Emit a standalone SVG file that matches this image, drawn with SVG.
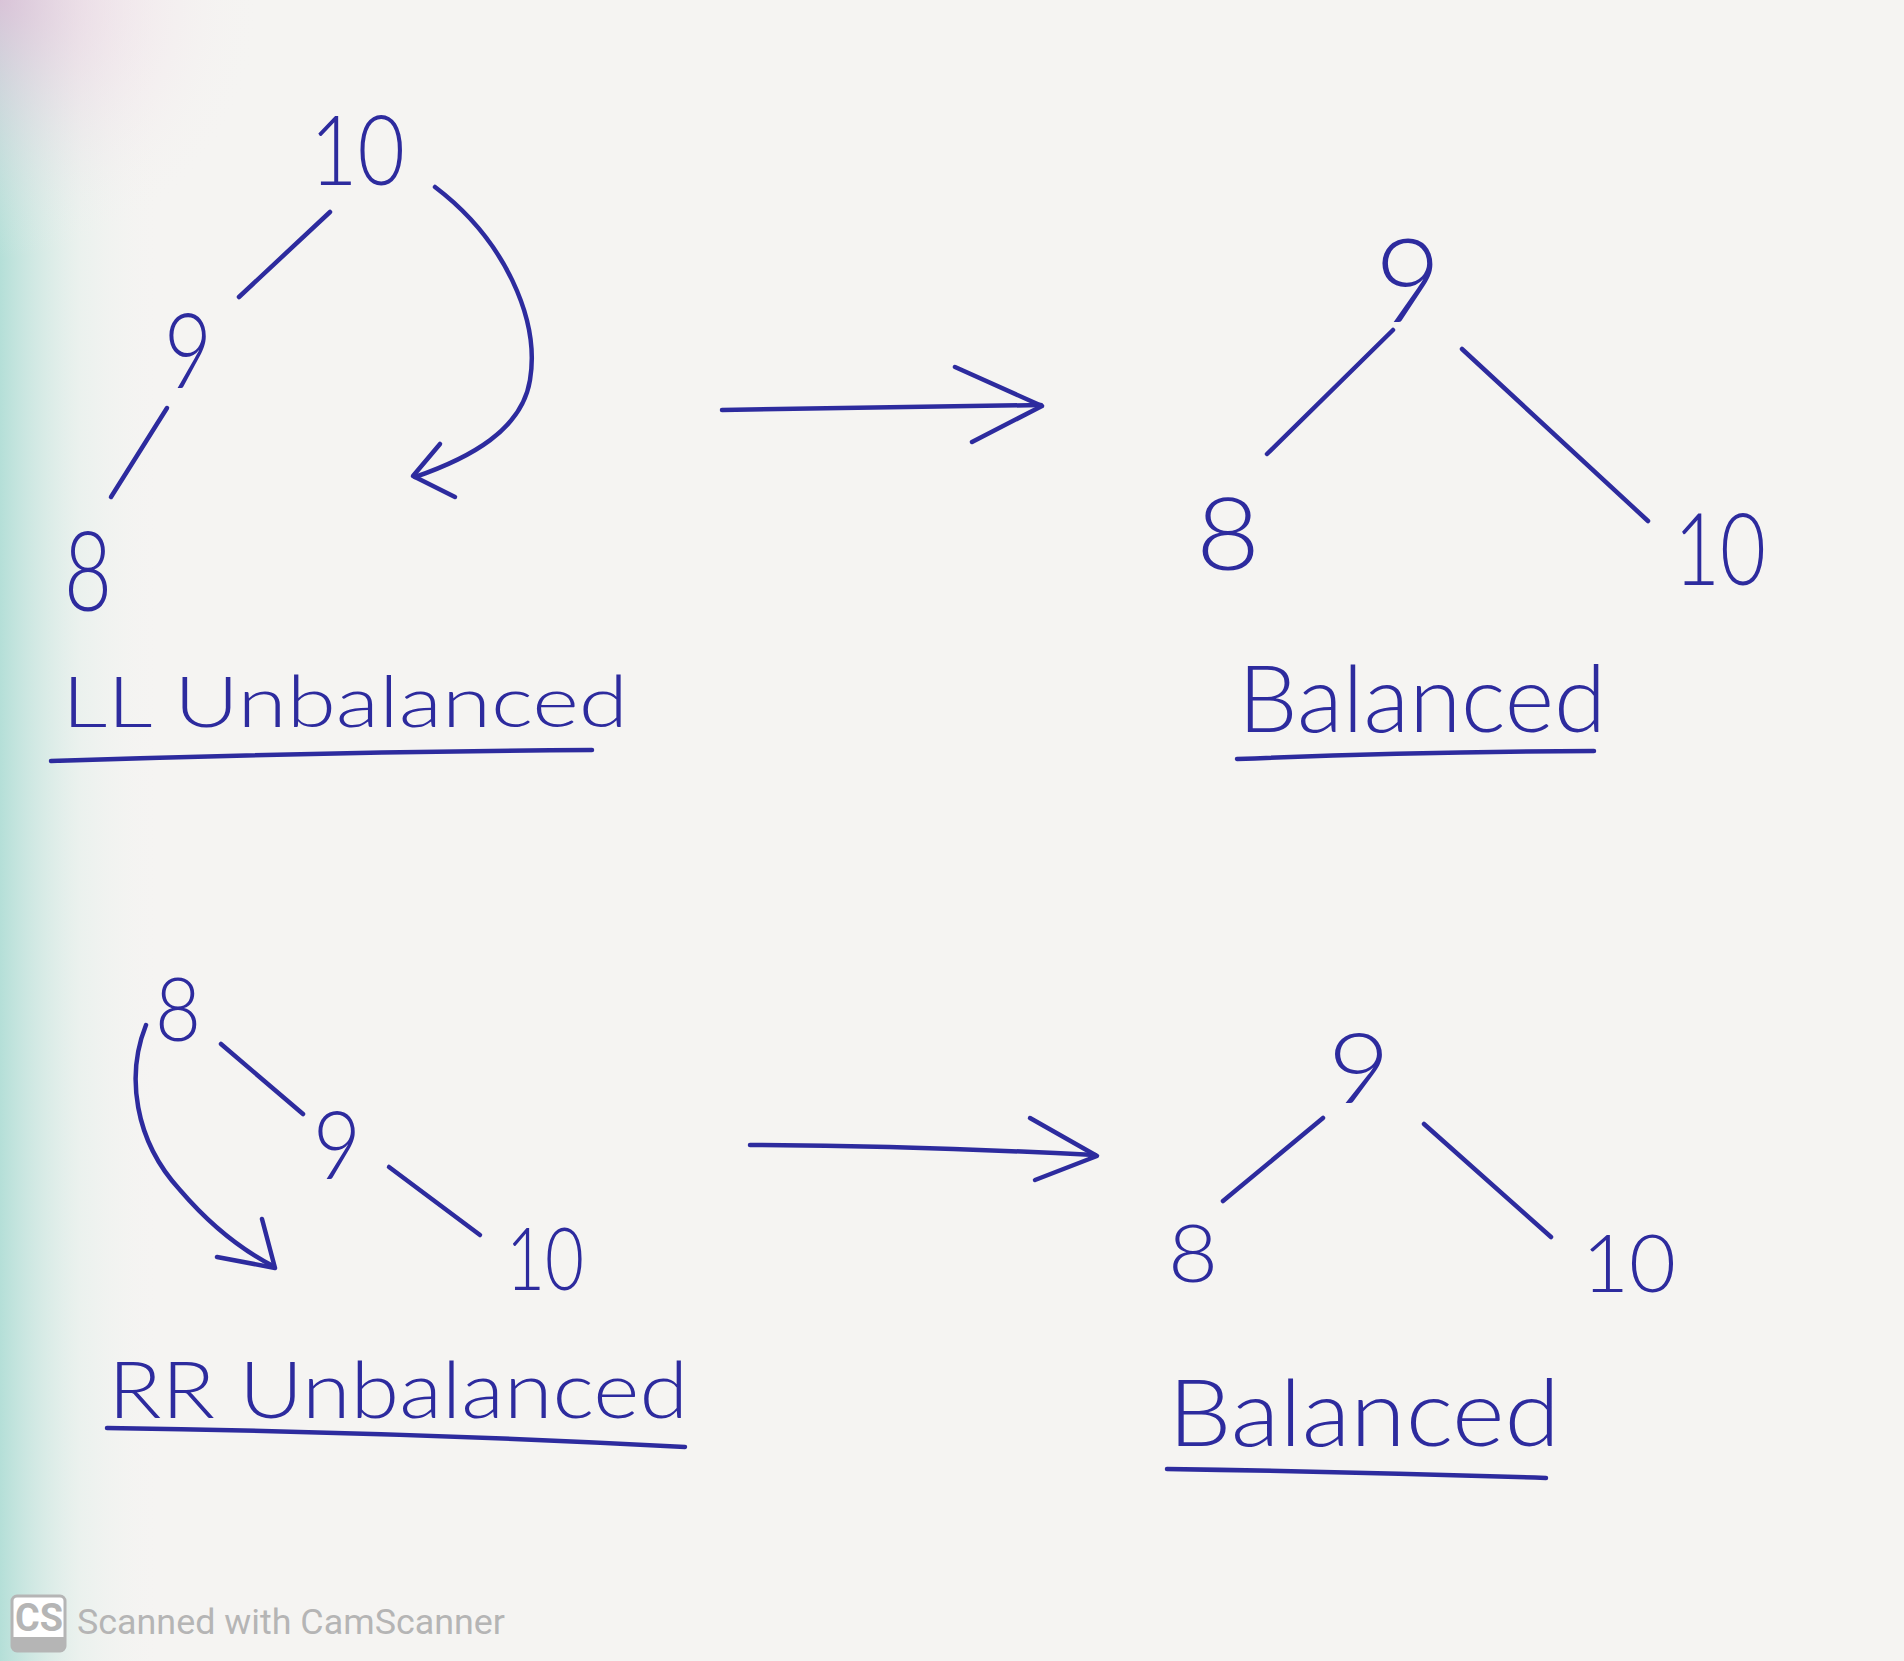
<svg xmlns="http://www.w3.org/2000/svg" width="1904" height="1661" viewBox="0 0 1904 1661">
  <defs>
    <linearGradient id="edge" x1="0" y1="0" x2="1" y2="0">
      <stop offset="0" stop-color="#9fd8cf" stop-opacity="0.75"/>
      <stop offset="0.5" stop-color="#d8ece6" stop-opacity="0.35"/>
      <stop offset="1" stop-color="#f4f3f1" stop-opacity="0"/>
    </linearGradient>
    <radialGradient id="corner" cx="0" cy="0" r="1">
      <stop offset="0" stop-color="#e8b8d8" stop-opacity="0.7"/>
      <stop offset="1" stop-color="#f4f3f1" stop-opacity="0"/>
    </radialGradient>
    <style>
      .ink { fill: #2d2b9e; font-family: Lato, "Liberation Sans", sans-serif; font-weight: 300; }
      .wire { fill: none; stroke: #2d2b9e; stroke-width: 4.5; stroke-linecap: round; stroke-linejoin: round; }
      .mark { fill: #b5b5b5; font-family: Roboto, "Liberation Sans", sans-serif; }
    </style>
  </defs>

  <rect x="0" y="0" width="1904" height="1661" fill="#f5f4f2"/>
  <rect x="0" y="0" width="160" height="1661" fill="url(#edge)"/>
  <rect x="0" y="0" width="260" height="260" fill="url(#corner)"/>

  <!-- LL unbalanced tree -->
  <g id="ll-node-10"><text class="ink" x="310" y="185" font-size="96" textLength="95" lengthAdjust="spacingAndGlyphs">10</text></g>
  <g id="ll-node-9"><text class="ink" x="164" y="388" font-size="104" textLength="48" lengthAdjust="spacingAndGlyphs">9</text></g>
  <g id="ll-node-8"><text class="ink" x="64" y="611" font-size="110" textLength="48" lengthAdjust="spacingAndGlyphs">8</text></g>
  <g id="ll-label"><text class="ink" x="62" y="727" font-size="70" textLength="566" lengthAdjust="spacingAndGlyphs">LL Unbalanced</text></g>

  <!-- Balanced tree (top) -->
  <g id="b1-node-9"><text class="ink" x="1375" y="322" font-size="116" textLength="66" lengthAdjust="spacingAndGlyphs">9</text></g>
  <g id="b1-node-8"><text class="ink" x="1196" y="570" font-size="100" textLength="64" lengthAdjust="spacingAndGlyphs">8</text></g>
  <g id="b1-node-10"><text class="ink" x="1674" y="585" font-size="100" textLength="92" lengthAdjust="spacingAndGlyphs">10</text></g>
  <g id="b1-label"><text class="ink" x="1238" y="732" font-size="93" textLength="368" lengthAdjust="spacingAndGlyphs">Balanced</text></g>

  <!-- RR unbalanced tree -->
  <g id="rr-node-8"><text class="ink" x="155" y="1041" font-size="88" textLength="46" lengthAdjust="spacingAndGlyphs">8</text></g>
  <g id="rr-node-9"><text class="ink" x="313" y="1179" font-size="94" textLength="48" lengthAdjust="spacingAndGlyphs">9</text></g>
  <g id="rr-node-10"><text class="ink" x="506" y="1290" font-size="86" textLength="78" lengthAdjust="spacingAndGlyphs">10</text></g>
  <g id="rr-label"><text class="ink" x="108" y="1418" font-size="78" textLength="580" lengthAdjust="spacingAndGlyphs">RR Unbalanced</text></g>

  <!-- Balanced tree (bottom) -->
  <g id="b2-node-9"><text class="ink" x="1328" y="1103" font-size="97" textLength="62" lengthAdjust="spacingAndGlyphs">9</text></g>
  <g id="b2-node-8"><text class="ink" x="1168" y="1282" font-size="81" textLength="50" lengthAdjust="spacingAndGlyphs">8</text></g>
  <g id="b2-node-10"><text class="ink" x="1582" y="1292" font-size="80" textLength="94" lengthAdjust="spacingAndGlyphs">10</text></g>
  <g id="b2-label"><text class="ink" x="1168" y="1446" font-size="92" textLength="392" lengthAdjust="spacingAndGlyphs">Balanced</text></g>

  <!-- connectors -->
  <g id="connectors" class="wire">
    <!-- LL tree edges -->
    <path d="M330,212 L239,297"/>
    <path d="M167,408 L111,497"/>
    <!-- LL rotation arrow -->
    <path d="M435,187 C505,240 540,320 530,380 C522,430 470,458 415,477"/>
    <path d="M440,444 L413,476 L455,497"/>
    <!-- top transform arrow -->
    <path d="M722,410 Q880,408 1041,405"/>
    <path d="M955,367 L1042,406 L972,442"/>
    <!-- top balanced edges -->
    <path d="M1393,330 L1267,454"/>
    <path d="M1462,349 L1648,521"/>
    <!-- RR tree edges -->
    <path d="M221,1044 L303,1114"/>
    <path d="M389,1167 L480,1235"/>
    <!-- RR rotation arrow -->
    <path d="M146,1025 C126,1075 134,1140 180,1190 C210,1225 242,1250 273,1266"/>
    <path d="M262,1219 L275,1268 L217,1257"/>
    <!-- bottom transform arrow -->
    <path d="M750,1145 Q920,1146 1095,1155"/>
    <path d="M1030,1118 L1097,1156 L1035,1180"/>
    <!-- bottom balanced edges -->
    <path d="M1323,1118 L1223,1201"/>
    <path d="M1424,1124 L1551,1237"/>
    <!-- underlines -->
    <path d="M51,761 Q320,752 592,750"/>
    <path d="M1237,759 Q1410,752 1594,751"/>
    <path d="M107,1428 Q400,1432 685,1447"/>
    <path d="M1167,1469 Q1360,1472 1546,1478"/>
  </g>

  <!-- scanner watermark -->
  <g id="watermark">
    <rect x="12" y="1596" width="53" height="55" rx="5" fill="#ffffff" stroke="#b5b5b5" stroke-width="3"/>
    <path d="M12,1637 H65 V1646 Q65,1651 60,1651 H17 Q12,1651 12,1646 Z" fill="#b5b5b5"/>
    <text class="mark" x="15" y="1631" font-size="38" font-weight="700" textLength="48" lengthAdjust="spacingAndGlyphs">CS</text>
    <text class="mark" x="77" y="1634" font-size="35" textLength="428" lengthAdjust="spacingAndGlyphs">Scanned with CamScanner</text>
  </g>
</svg>
